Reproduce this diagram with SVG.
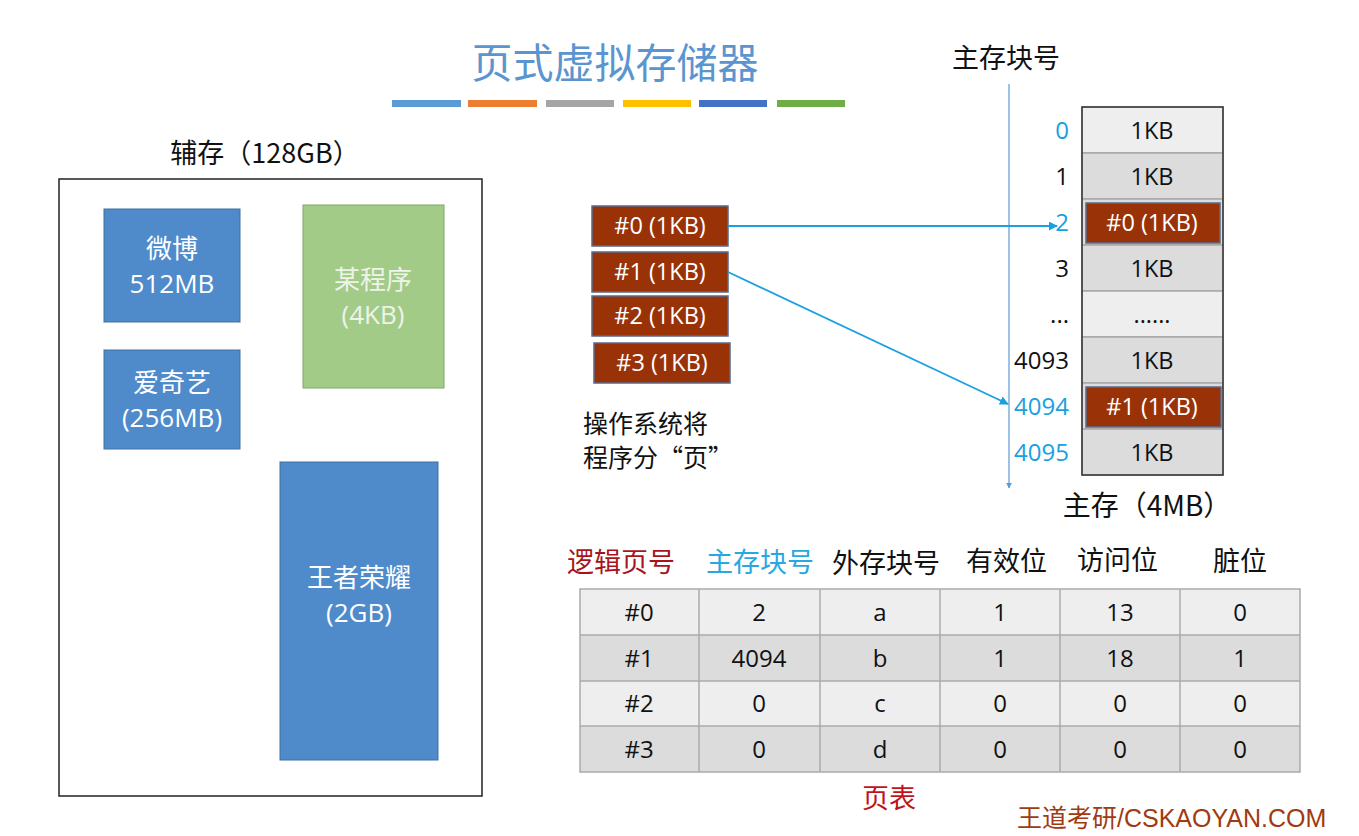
<svg xmlns="http://www.w3.org/2000/svg" width="1359" height="836" viewBox="0 0 1359 836">
<style>
text{font-family:"Open Sans","Noto Sans CJK SC",sans-serif;}
.t22{font-size:23.5px;text-anchor:middle;}
.w{fill:#ffffff;}
.k{fill:#111111;}
.bl{fill:#1AA0E0;}
.page{fill:#9A3208;stroke:#5A6A8A;stroke-width:1.5;}
.blue{fill:#4F8BCB;stroke:#41719C;stroke-width:1;}
.mem{stroke:#A8A8A8;stroke-width:1.5;}
.lt{fill:#EEEEEE;}
.dk{fill:#DCDCDC;}
.cell{stroke:#ABABAB;stroke-width:1.5;}
.conn{stroke:#1AA0E0;stroke-width:1.8;fill:none;}
.cjk{font-family:"Noto Sans CJK SC",sans-serif;}
.big{font-size:26px;fill:#ffffff;text-anchor:middle;}
</style>
<defs>
<marker id="ah" viewBox="0 0 10 10" refX="9" refY="5" markerWidth="5" markerHeight="5" orient="auto">
<path d="M0,0 L10,5 L0,10 z" fill="#1AA0E0"/>
</marker>
<marker id="ah2" viewBox="0 0 10 10" refX="9" refY="5" markerWidth="5" markerHeight="5" orient="auto">
<path d="M0,0 L10,5 L0,10 z" fill="#5B9BD5"/>
</marker>
</defs>
<rect width="1359" height="836" fill="#ffffff"/>

<g id="title">
<text x="615" y="78" class="cjk" style="font-size:41px;text-anchor:middle;fill:#5B95D0;">页式虚拟存储器</text>
<rect x="392" y="100" width="69" height="7" fill="#5B9BD5"/>
<rect x="468" y="100" width="69" height="7" fill="#ED7D31"/>
<rect x="546" y="100" width="68" height="7" fill="#A5A5A5"/>
<rect x="623" y="100" width="68" height="7" fill="#FFC000"/>
<rect x="699" y="100" width="68" height="7" fill="#4472C4"/>
<rect x="777" y="100" width="68" height="7" fill="#70AD47"/>
</g>

<g id="secondary">
<text x="265" y="163" class="cjk" style="font-size:27px;text-anchor:middle;fill:#111;">辅存（128GB）</text>
<rect x="59" y="179" width="423" height="617" fill="none" stroke="#222" stroke-width="1.5"/>
</g>
<g id="weibo">
<rect x="104" y="209" width="136" height="113" class="blue"/>
<text x="172" y="258" class="big">微博</text>
<text x="172" y="293" class="big">512MB</text>
</g>
<g id="iqiyi">
<rect x="104" y="350" width="136" height="99" class="blue"/>
<text x="172" y="392" class="big">爱奇艺</text>
<text x="172" y="427" class="big">(256MB)</text>
</g>
<g id="program">
<rect x="303" y="205" width="141" height="183" fill="#A2CB88" stroke="#7FA86A" stroke-width="1"/>
<text x="373" y="289" class="big" style="fill:#EEF3E8;">某程序</text>
<text x="373" y="324" class="big" style="fill:#EEF3E8;">(4KB)</text>
</g>
<g id="wzry">
<rect x="280" y="462" width="158" height="298" class="blue"/>
<text x="359" y="587" class="big">王者荣耀</text>
<text x="359" y="622" class="big">(2GB)</text>
</g>

<g id="pages">
<rect x="592" y="206" width="136" height="40" class="page"/>
<text x="660" y="234" class="t22 w">#0 (1KB)</text>
<rect x="592" y="252" width="136" height="40" class="page"/>
<text x="660" y="280" class="t22 w">#1 (1KB)</text>
<rect x="592" y="296" width="136" height="40" class="page"/>
<text x="660" y="324" class="t22 w">#2 (1KB)</text>
<rect x="594" y="343" width="136" height="40" class="page"/>
<text x="662" y="371" class="t22 w">#3 (1KB)</text>
</g>
<g id="os-note">
<text x="583" y="433" class="cjk" style="font-size:25px;fill:#111;">操作系统将</text>
<text x="583" y="467" class="cjk" style="font-size:25px;fill:#111;">程序分“页”</text>
</g>

<g id="blocknum">
<text x="1006" y="68" class="cjk" style="font-size:27px;text-anchor:middle;fill:#111;">主存块号</text>
</g>

<g id="memory">
<rect x="1082" y="107" width="141" height="46" class="mem lt"/>
<rect x="1082" y="153" width="141" height="46" class="mem dk"/>
<rect x="1082" y="199" width="141" height="46" class="mem dk"/>
<rect x="1082" y="245" width="141" height="46" class="mem dk"/>
<rect x="1082" y="291" width="141" height="46" class="mem lt"/>
<rect x="1082" y="337" width="141" height="46" class="mem dk"/>
<rect x="1082" y="383" width="141" height="46" class="mem dk"/>
<rect x="1082" y="429" width="141" height="46" class="mem dk"/>
<rect x="1082" y="107" width="141" height="368" fill="none" stroke="#333" stroke-width="1.5"/>
<rect x="1086" y="203" width="134" height="40" class="page"/>
<rect x="1086" y="387" width="135" height="40" class="page"/>
<text x="1152" y="139" class="t22 k">1KB</text>
<text x="1152" y="185" class="t22 k">1KB</text>
<text x="1152" y="231" class="t22 w">#0 (1KB)</text>
<text x="1152" y="277" class="t22 k">1KB</text>
<text x="1152" y="323" class="t22 k">......</text>
<text x="1152" y="369" class="t22 k">1KB</text>
<text x="1152" y="415" class="t22 w">#1 (1KB)</text>
<text x="1152" y="461" class="t22 k">1KB</text>
<g style="font-size:24px;text-anchor:end;">
<text x="1069" y="139" class="bl">0</text>
<text x="1069" y="185" class="k">1</text>
<text x="1069" y="231" class="bl">2</text>
<text x="1069" y="277" class="k">3</text>
<text x="1069" y="323" class="k">...</text>
<text x="1069" y="369" class="k">4093</text>
<text x="1069" y="415" class="bl">4094</text>
<text x="1069" y="461" class="bl">4095</text>
</g>
<text x="1147" y="516" class="cjk" style="font-size:28px;text-anchor:middle;fill:#111;">主存（4MB）</text>
</g>

<g id="connectors">
<line x1="1009" y1="84" x2="1009" y2="488" stroke="#5B9BD5" stroke-width="1.2" marker-end="url(#ah2)"/>
<line x1="728" y1="226" x2="1057" y2="226" class="conn" marker-end="url(#ah)"/>
<line x1="728" y1="272" x2="1008" y2="404" class="conn" marker-end="url(#ah)"/>
</g>

<g id="pagetable">
<g class="cjk" style="font-size:27px;">
<text x="567" y="572" style="fill:#A8141C;">逻辑页号</text>
<text x="706" y="572" style="fill:#28A7E0;">主存块号</text>
<text x="832" y="573" style="fill:#111;">外存块号</text>
<text x="966" y="571" style="fill:#111;">有效位</text>
<text x="1077" y="570" style="fill:#111;">访问位</text>
<text x="1213" y="571" style="fill:#111;">脏位</text>
</g>
<rect x="580" y="589" width="720" height="46" class="lt"/>
<rect x="580" y="635" width="720" height="46" class="dk"/>
<rect x="580" y="681" width="720" height="45" class="lt"/>
<rect x="580" y="726" width="720" height="46" class="dk"/>
<g class="cell" fill="none">
<rect x="580" y="589" width="720" height="183"/>
<line x1="580" y1="635" x2="1300" y2="635"/>
<line x1="580" y1="681" x2="1300" y2="681"/>
<line x1="580" y1="726" x2="1300" y2="726"/>
<line x1="699" y1="589" x2="699" y2="772"/>
<line x1="820" y1="589" x2="820" y2="772"/>
<line x1="940" y1="589" x2="940" y2="772"/>
<line x1="1060" y1="589" x2="1060" y2="772"/>
<line x1="1180" y1="589" x2="1180" y2="772"/>
</g>
<g class="t22 k" style="font-size:24px;">
<text x="639" y="621">#0</text><text x="759" y="621">2</text><text x="880" y="621">a</text><text x="1000" y="621">1</text><text x="1120" y="621">13</text><text x="1240" y="621">0</text>
<text x="639" y="667">#1</text><text x="759" y="667">4094</text><text x="880" y="667">b</text><text x="1000" y="667">1</text><text x="1120" y="667">18</text><text x="1240" y="667">1</text>
<text x="639" y="712">#2</text><text x="759" y="712">0</text><text x="880" y="712">c</text><text x="1000" y="712">0</text><text x="1120" y="712">0</text><text x="1240" y="712">0</text>
<text x="639" y="758">#3</text><text x="759" y="758">0</text><text x="880" y="758">d</text><text x="1000" y="758">0</text><text x="1120" y="758">0</text><text x="1240" y="758">0</text>
</g>
<text x="889" y="808" class="cjk" style="font-size:27px;text-anchor:middle;fill:#C0141C;">页表</text>
</g>

<g id="watermark">
<text x="1017" y="827" style="font-family:'Liberation Sans','Noto Sans CJK SC',sans-serif;font-size:25px;fill:#A03A10;">王道考研/CSKAOYAN.COM</text>
</g>
</svg>
